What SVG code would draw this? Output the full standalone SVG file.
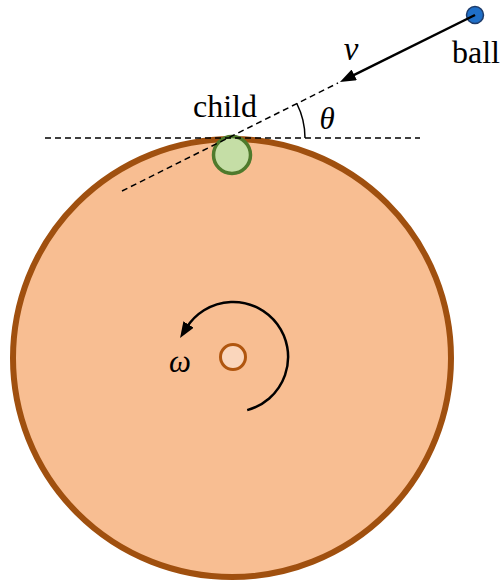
<svg xmlns="http://www.w3.org/2000/svg" width="502" height="581" viewBox="0 0 502 581">
<style>
.t{font-family:"Liberation Serif","Times New Roman",serif;fill:#000;}
.i{font-style:italic;}
.dash{fill:none;stroke:#000;stroke-width:1.5;stroke-dasharray:6 4;}
</style>
<defs>
<marker id="ah" markerUnits="userSpaceOnUse" markerWidth="16" markerHeight="12" viewBox="0 0 16 12" refX="4" refY="6" orient="auto">
<path d="M0,0 L16,6 L0,12 z" fill="#000"/>
</marker>
</defs>
<rect width="502" height="581" fill="#fff"/>
<g id="disk">
<circle cx="232" cy="358" r="219" fill="#F8BE92" stroke="#A0500F" stroke-width="6"/>
</g>
<g id="axis">
<circle cx="233" cy="357" r="12.5" fill="#FAD6BC" stroke="#B0560F" stroke-width="3"/>
</g>
<g id="child">
<circle cx="232" cy="155" r="18.5" fill="#C5DEA6" stroke="#4F7A2C" stroke-width="3.5"/>
<text class="t" x="225" y="117" font-size="32" text-anchor="middle">child</text>
</g>
<g id="ball">
<circle cx="475" cy="15" r="8.5" fill="#1F6FC8" stroke="#1F3C6A" stroke-width="1.5"/>
<text class="t" x="476" y="63" font-size="32" text-anchor="middle">ball</text>
</g>
<g id="connectors">
<line class="dash" x1="45" y1="138" x2="420" y2="138"/>
<line class="dash" x1="122" y1="191" x2="338" y2="83"/>
<line x1="475" y1="15" x2="350.7" y2="76.7" stroke="#000" stroke-width="2.5" marker-end="url(#ah)"/>
<path d="M305,138 A77,77 0 0 0 296.8,103.5" fill="none" stroke="#000" stroke-width="1.5"/>
<path d="M247.2,410.1 A55,55 0 1 0 186.4,327.9" fill="none" stroke="#000" stroke-width="2.5" marker-end="url(#ah)"/>
</g>
<g id="labels">
<text class="t i" x="351" y="60" font-size="33" text-anchor="middle">v</text>
<text class="t i" x="327" y="129" font-size="31" text-anchor="middle">θ</text>
<text class="t i" x="180" y="372" font-size="31" text-anchor="middle">ω</text>
</g>
</svg>
